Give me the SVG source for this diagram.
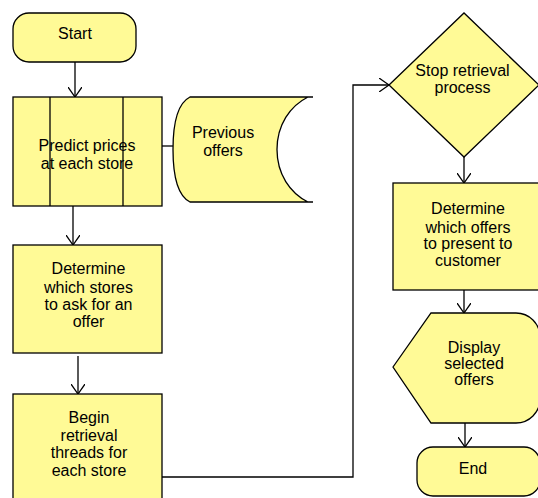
<svg xmlns="http://www.w3.org/2000/svg" width="538" height="498" viewBox="0 0 538 498">
<defs>
<style>
.s{fill:#FFFA96;stroke:#000;stroke-width:1.3}
.c{fill:none;stroke:#000;stroke-width:1.3}
.t{font-family:"Liberation Sans",Arial,sans-serif;font-size:16px;fill:#000;text-anchor:middle}
</style>
<marker id="arr" viewBox="0 0 10 14" refX="10" refY="7" markerWidth="10" markerHeight="14" orient="auto" markerUnits="userSpaceOnUse">
<path d="M0,0 L10,7 L0,14" fill="none" stroke="#000" stroke-width="1.3"/>
</marker>
</defs>
<rect width="538" height="498" fill="#fff"/>
<g id="connectors">
<line class="c" x1="75" y1="62" x2="75" y2="97" marker-end="url(#arr)"/>
<line class="c" x1="162" y1="146" x2="175" y2="146"/>
<line class="c" x1="73" y1="206" x2="73" y2="245" marker-end="url(#arr)"/>
<line class="c" x1="78" y1="356" x2="78" y2="394" marker-end="url(#arr)"/>
<polyline class="c" points="157,477 353,477 353,85 389,85" marker-end="url(#arr)"/>
<line class="c" x1="464" y1="157" x2="464" y2="183" marker-end="url(#arr)"/>
<line class="c" x1="464" y1="290" x2="464" y2="313" marker-end="url(#arr)"/>
<line class="c" x1="465" y1="423" x2="465" y2="447" marker-end="url(#arr)"/>
</g>
<g id="start">
<rect class="s" x="13" y="13" width="123" height="49" rx="16"/>
<text class="t" x="75" y="39">Start</text>
</g>
<g id="predict">
<rect class="s" x="13" y="97" width="149" height="109"/>
<line class="c" x1="50" y1="97" x2="50" y2="206"/>
<line class="c" x1="123" y1="97" x2="123" y2="206"/>
<text class="t" x="87" y="150.5">Predict prices</text>
<text class="t" x="87" y="169">at each store</text>
</g>
<g id="previous">
<path class="s" d="M190,97 L313,97 L308,97 C290,106 277,125 277,149.5 C277,174 290,193 308,202 L313,202 L190,202 C178,196 173,176 173,149.5 C173,123 178,103 190,97 Z"/>
<text class="t" x="223" y="138">Previous</text>
<text class="t" x="223" y="156">offers</text>
</g>
<g id="determine-stores">
<rect class="s" x="13" y="245" width="149" height="108"/>
<text class="t" x="88.5" y="274">Determine</text>
<text class="t" x="88.5" y="293">which stores</text>
<text class="t" x="88.5" y="310">to ask for an</text>
<text class="t" x="88.5" y="326.5">offer</text>
</g>
<g id="begin">
<rect class="s" x="13" y="394" width="149" height="108"/>
<text class="t" x="89" y="423">Begin</text>
<text class="t" x="89" y="441">retrieval</text>
<text class="t" x="89" y="458">threads for</text>
<text class="t" x="89" y="475.5">each store</text>
</g>
<g id="stop">
<polygon class="s" points="389,85 464,13 539,85 464,157"/>
<text class="t" x="462.5" y="75.5">Stop retrieval</text>
<text class="t" x="462.5" y="92.5">process</text>
</g>
<g id="determine-offers">
<rect class="s" x="393" y="183" width="150" height="107"/>
<text class="t" x="468" y="214">Determine</text>
<text class="t" x="468" y="232.5">which offers</text>
<text class="t" x="468" y="249">to present to</text>
<text class="t" x="468" y="265.5">customer</text>
</g>
<g id="display">
<path class="s" d="M393,367 L431,313 L516,313 A24,24 0 0 1 540,337 L540,399 A24,24 0 0 1 516,423 L431,423 Z"/>
<text class="t" x="474" y="353">Display</text>
<text class="t" x="474" y="369">selected</text>
<text class="t" x="474" y="385">offers</text>
</g>
<g id="end">
<rect class="s" x="417" y="447" width="123" height="49" rx="16"/>
<text class="t" x="473" y="474">End</text>
</g>
</svg>
